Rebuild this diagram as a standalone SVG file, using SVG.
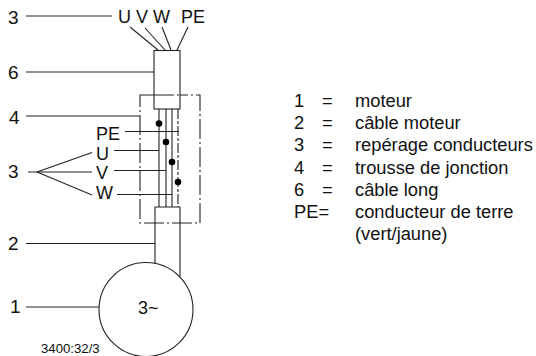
<svg xmlns="http://www.w3.org/2000/svg" width="536" height="356" viewBox="0 0 536 356">
<style>
text{font-family:"Liberation Sans",Arial,sans-serif;fill:#111}
.n{font-size:19px}
.l{font-size:18px}
.k{font-size:18.3px}
.s{font-size:13.2px}
line,path,rect,circle.o{fill:none;stroke:#222;stroke-width:1.1}
.d{stroke-dasharray:20 3 2 3}
.c{fill:#000;stroke:none}
</style>
<rect width="536" height="356" fill="#fff" style="stroke:none"/>
<g id="connectors">
<line x1="26" y1="16" x2="112" y2="16"/>
<line x1="130" y1="27" x2="158" y2="50"/>
<line x1="145" y1="28" x2="165" y2="50"/>
<line x1="162" y1="27" x2="171" y2="50"/>
<line x1="188" y1="27" x2="177" y2="50"/>
<line x1="26" y1="72" x2="154" y2="72"/>
<line x1="26" y1="116" x2="140" y2="116"/>
<line x1="125" y1="131.5" x2="179" y2="131.5"/>
<line x1="114" y1="150.5" x2="159" y2="150.5"/>
<line x1="114" y1="170.5" x2="166" y2="170.5"/>
<line x1="117" y1="194.5" x2="172" y2="194.5"/>
<line x1="28" y1="172" x2="92" y2="172"/>
<line x1="37" y1="172" x2="92" y2="152.5"/>
<line x1="37" y1="172" x2="92" y2="195"/>
<line x1="26" y1="243.5" x2="155" y2="243.5"/>
<line x1="26" y1="307" x2="99" y2="307"/>
<line x1="159" y1="109" x2="159" y2="207"/>
<line x1="166" y1="109" x2="166" y2="207"/>
<line x1="172" y1="109" x2="172" y2="207"/>
<line x1="178" y1="109" x2="178" y2="207" stroke-dasharray="10 2 3 2"/>
<circle class="c" cx="159" cy="123.5" r="3.3"/>
<circle class="c" cx="166" cy="142" r="3.3"/>
<circle class="c" cx="172" cy="162" r="3.3"/>
<circle class="c" cx="178" cy="182" r="3.3"/>
</g>
<g id="node-junction"><rect class="d" x="140" y="95" width="60" height="128"/></g>
<g id="node-cable-long"><rect x="154" y="50.5" width="26" height="58.5" style="fill:#fff"/><line x1="154" y1="95" x2="180" y2="95" class="d"/></g>
<g id="node-cable-motor">
<path d="M155 264V207H180V277"/>
</g>
<g id="node-motor"><circle class="o" cx="146" cy="309.5" r="47"/><text class="l" x="138" y="314">3~</text></g>
<g id="labels">
<text class="n" x="8" y="24">3</text>
<text class="n" x="8" y="79">6</text>
<text class="n" x="9" y="124">4</text>
<text class="n" x="8" y="178">3</text>
<text class="n" x="8" y="250">2</text>
<text class="n" x="10" y="313">1</text>
<text class="l" x="118" y="23">U</text>
<text class="l" x="136" y="23">V</text>
<text class="l" x="153" y="23">W</text>
<text class="l" x="181" y="23">PE</text>
<text class="l" x="96" y="139.5">PE</text>
<text class="l" x="96" y="160">U</text>
<text class="l" x="96" y="179">V</text>
<text class="l" x="96" y="199">W</text>
<text class="s" x="41" y="353">3400:32/3</text>
</g>
<g id="legend">
<text class="k" x="294" y="107">1</text><text class="k" x="322" y="107">=</text><text class="k" x="355" y="107">moteur</text>
<text class="k" x="294" y="129">2</text><text class="k" x="322" y="129">=</text><text class="k" x="355" y="129">câble moteur</text>
<text class="k" x="294" y="151">3</text><text class="k" x="322" y="151">=</text><text class="k" x="355" y="151">repérage conducteurs</text>
<text class="k" x="294" y="173.5">4</text><text class="k" x="322" y="173.5">=</text><text class="k" x="355" y="173.5">trousse de jonction</text>
<text class="k" x="294" y="196">6</text><text class="k" x="322" y="196">=</text><text class="k" x="355" y="196">câble long</text>
<text class="k" x="294" y="218">PE=</text><text class="k" x="355" y="218">conducteur de terre</text>
<text class="k" x="355" y="240">(vert/jaune)</text>
</g>
</svg>
